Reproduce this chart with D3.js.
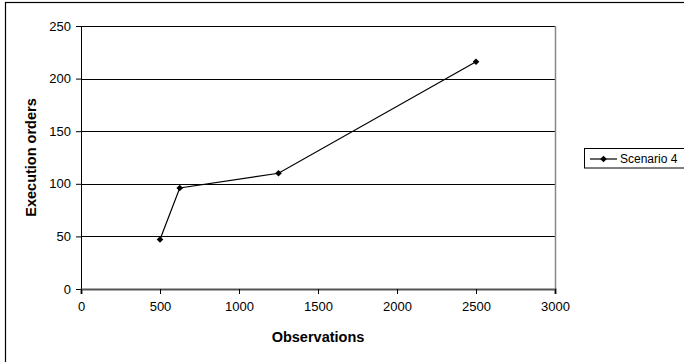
<!DOCTYPE html>
<html>
<head>
<meta charset="utf-8">
<script src="https://cdn.jsdelivr.net/npm/d3@7"></script>
<style>
  body { margin: 0; background: #fff; }
  text { font-family: "Liberation Sans", Arial, sans-serif; }
</style>
</head>
<body>
<script>
var observations = [500, 625, 1250, 2500];
var executionOrders = [47, 96, 110, 216];
var seriesName = "Scenario 4";
var xTicks = [0, 500, 1000, 1500, 2000, 2500, 3000];
var yTicks = [0, 50, 100, 150, 200, 250];

var data = observations.map(function(d, i) {
    return { x: d, y: executionOrders[i] };
});

var W = 684, H = 362;
var margin = { top: 26, right: 129, bottom: 73, left: 81 },
    width = W - margin.left - margin.right,
    height = H - margin.top - margin.bottom;

var svg = d3.select("body").append("svg")
    .attr("width", W)
    .attr("height", H);

// outer chart frame
svg.append("rect")
    .attr("x", 5.5)
    .attr("y", 2.5)
    .attr("width", W + 10)
    .attr("height", H + 10)
    .attr("fill", "none")
    .attr("stroke", "#000")
    .attr("stroke-width", 1.2);

var g = svg.append("g")
    .attr("transform", "translate(" + margin.left + "," + margin.top + ")");

var get_x = d3.scaleLinear().domain([0, 3000]).range([0, width]);
var get_y = d3.scaleLinear().domain([0, 250]).range([height, 0]);
var fmt = d3.format("d");

// grid lines
g.selectAll(".grid")
    .data(yTicks.filter(function(d) { return d > 0; }))
    .enter().append("line")
    .attr("x1", 0)
    .attr("x2", width)
    .attr("y1", function(d) { return Math.round(get_y(d)) + 0.5; })
    .attr("y2", function(d) { return Math.round(get_y(d)) + 0.5; })
    .attr("stroke", "#000")
    .attr("stroke-width", 1);

// right border of plot area
g.append("line")
    .attr("x1", width + 0.5).attr("x2", width + 0.5)
    .attr("y1", 0).attr("y2", height)
    .attr("stroke", "#888")
    .attr("stroke-width", 1.5);

// y axis
var yAxis = g.append("g")
    .call(d3.axisLeft(get_y).tickValues(yTicks).tickFormat(fmt).tickSize(5).tickPadding(5));
yAxis.select(".domain").attr("stroke", "#000");
yAxis.selectAll("text").style("font-size", "13px").attr("fill", "#000");

// x axis
var xAxis = g.append("g")
    .attr("transform", "translate(0," + height + ")")
    .call(d3.axisBottom(get_x).tickValues(xTicks).tickFormat(fmt).tickSize(5).tickPadding(8));
xAxis.select(".domain").attr("stroke", "#555").attr("stroke-width", 2.2);
xAxis.selectAll("text").style("font-size", "13px").attr("fill", "#000");

// series line
var line = d3.line()
    .x(function(d) { return get_x(d.x); })
    .y(function(d) { return get_y(d.y); });

g.append("path")
    .datum(data)
    .attr("fill", "none")
    .attr("stroke", "#000")
    .attr("stroke-width", 1.2)
    .attr("d", line);

var diamond = d3.symbol().type(d3.symbolDiamond2).size(28);

g.selectAll(".pt")
    .data(data)
    .enter().append("path")
    .attr("transform", function(d) {
        return "translate(" + get_x(d.x) + "," + get_y(d.y) + ")";
    })
    .attr("d", diamond)
    .attr("fill", "#000");

// axis titles
svg.append("text")
    .attr("x", margin.left + width / 2)
    .attr("y", 342)
    .attr("text-anchor", "middle")
    .style("font-size", "14.5px")
    .style("font-weight", "bold")
    .text("Observations");

svg.append("text")
    .attr("transform", "translate(36," + (margin.top + height / 2) + ") rotate(-90)")
    .attr("text-anchor", "middle")
    .style("font-size", "14.5px")
    .style("font-weight", "bold")
    .text("Execution orders");

// legend
var legend = svg.append("g").attr("transform", "translate(584,148)");
legend.append("rect")
    .attr("x", 0.5).attr("y", 0.5)
    .attr("width", 120).attr("height", 19.5)
    .attr("fill", "#fff")
    .attr("stroke", "#000")
    .attr("stroke-width", 1);
legend.append("line")
    .attr("x1", 6).attr("x2", 33)
    .attr("y1", 11).attr("y2", 11)
    .attr("stroke", "#000")
    .attr("stroke-width", 1.2);
legend.append("path")
    .attr("transform", "translate(19.5,11)")
    .attr("d", diamond)
    .attr("fill", "#000");
legend.append("text")
    .attr("x", 36)
    .attr("y", 15)
    .style("font-size", "12px")
    .text(seriesName);
</script>
</body>
</html>
